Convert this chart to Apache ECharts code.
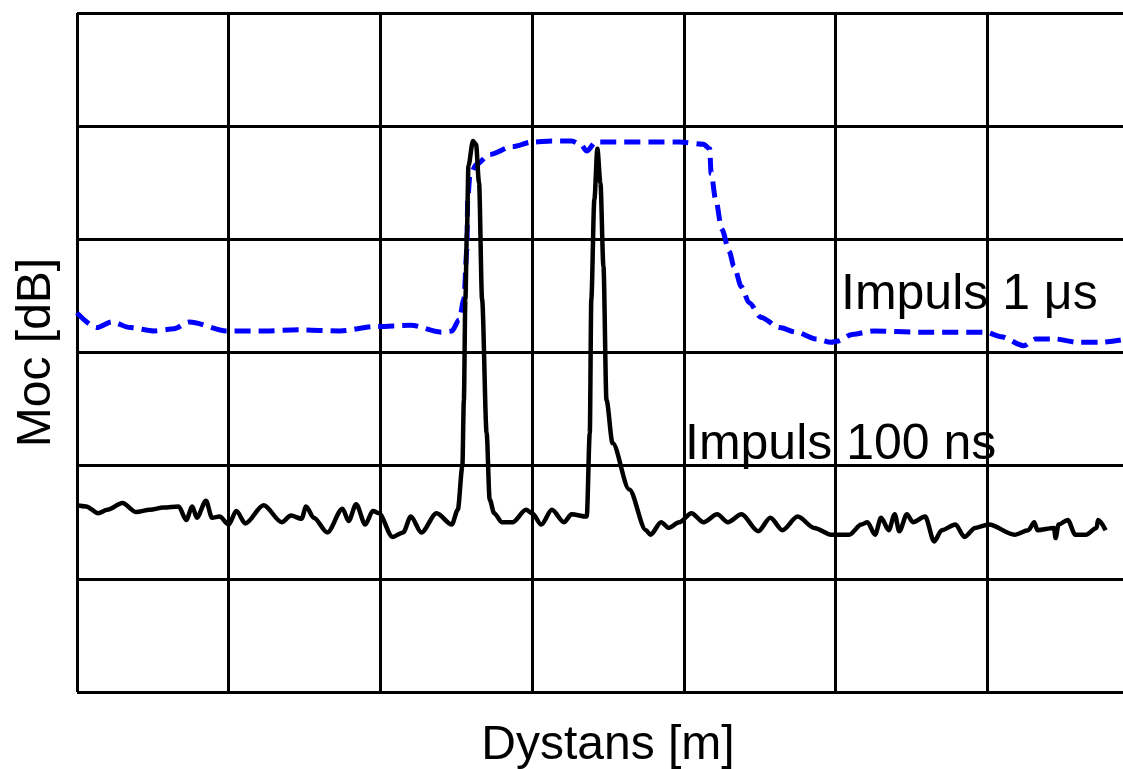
<!DOCTYPE html>
<html>
<head>
<meta charset="utf-8">
<title>Moc vs Dystans</title>
<script src="https://cdn.jsdelivr.net/npm/echarts@6/dist/echarts.min.js"></script>
<style>
  html, body { margin: 0; padding: 0; background: #fff; }
  #chart { width: 1123px; height: 769px; }
</style>
</head>
<body>
<div id="chart"></div>
<script>
// distance (one grid division = 10) and power (one division = 10 dB)
var pulse1usX = [0, 1.3, 2.3, 3.5, 5.1, 6.4, 7.4, 9.9, 12.0, 14.7, 17.3, 19.7, 22.0, 24.0, 24.7, 25.2, 25.5, 25.7, 25.75,
    25.9, 26.3, 27.2, 28.7, 30.0, 31.3, 32.6, 33.2, 33.6, 34.2, 35.3, 39.7, 41.3, 41.7, 41.8, 42.1, 42.5, 43.0, 43.3,
    43.8, 44.3, 45.1, 46.3, 47.4, 48.7, 49.7, 50.1, 51.1, 52.5, 55.5, 59.9, 60.9, 62.4, 63.2, 64.4, 66.0, 67.5, 68.8];
var pulse1usY = [33.5, 32.2, 32.7, 32.2, 31.9, 32.1, 32.7, 31.9, 31.9, 32.0, 31.9, 32.3, 32.4, 31.8, 31.9, 32.9, 34.7, 39.1, 43.5,
    45.6, 46.6, 47.5, 48.2, 48.6, 48.7, 48.7, 48.4, 47.8, 48.6, 48.6, 48.6, 48.4, 48.0, 45.8, 43.5, 40.9, 38.9, 37.6,
    35.8, 34.4, 33.1, 32.2, 31.8, 31.2, 30.9, 31.0, 31.6, 31.9, 31.8, 31.8, 31.4, 30.6, 31.2, 31.2, 30.9, 30.9, 31.1];

var pulse100nsX = [0, 0.6, 1.4, 2.0, 3.0, 3.9, 4.8, 5.7, 6.7, 7.2, 7.6, 7.9, 8.5, 8.9, 9.4, 10.0, 10.5, 11.1, 12.3, 13.5,
    14.1, 14.8, 15.1, 15.6, 16.5, 17.5, 17.9, 18.4, 19.0, 19.5, 19.9, 20.8, 21.5, 22.0, 22.7, 23.7, 24.7, 25.1, 25.4,
    25.5, 25.6, 25.7, 25.8, 26.1, 26.3, 26.5, 26.7, 27.0, 27.2, 27.5, 28.0, 28.7, 29.6, 30.0, 30.6, 31.3, 32.1, 32.6,
    33.6, 33.8, 33.9, 34.1, 34.3, 34.5, 34.7, 34.9, 35.3, 36.4, 37.5, 37.8, 38.5, 39.0, 39.7, 40.5, 41.3, 42.2, 42.9,
    43.8, 44.9, 45.7, 46.5, 47.5, 48.6, 49.7, 50.9, 51.7, 52.1, 52.6, 53.0, 53.5, 53.9, 54.2, 54.7, 55.1, 55.9, 56.5,
    57.0, 57.9, 58.5, 59.2, 60.1, 61.8, 62.7, 63.1, 63.3, 64.4, 64.5, 64.7, 65.3, 65.8, 66.5, 67.2, 67.3, 67.8];
var pulse100nsY = [16.5, 16.4, 15.8, 16.1, 16.7, 15.9, 16.1, 16.3, 16.4, 15.2, 16.4, 15.4, 16.9, 15.4, 15.5, 14.8, 16.0, 14.9, 16.5, 15.0,
    15.6, 15.3, 16.4, 15.4, 14.1, 16.2, 15.1, 16.6, 14.8, 16.0, 15.8, 13.7, 14.1, 15.5, 14.1, 15.8, 14.8, 16.1, 19.9,
    25.8, 34.7, 40.6, 46.5, 48.7, 48.4, 45.0, 34.7, 22.9, 17.0, 15.8, 15.0, 15.0, 16.1, 15.8, 14.8, 16.1, 15.0, 15.7,
    15.5, 22.9, 34.7, 43.5, 48.0, 45.0, 37.6, 25.8, 22.0, 17.9, 14.3, 13.9, 15.0, 14.5, 15.0, 15.8, 15.0, 15.7, 15.0,
    15.7, 14.2, 15.4, 14.3, 15.5, 14.5, 13.9, 13.9, 14.8, 15.0, 13.9, 15.4, 14.3, 15.7, 14.2, 15.7, 15.0, 15.5, 13.3,
    14.3, 14.8, 13.7, 14.5, 14.8, 13.9, 14.3, 15.0, 14.3, 14.5, 13.6, 14.8, 15.2, 13.9, 13.9, 14.5, 15.2, 14.3];

var seriesNames = ['Impuls 1 \u03bcs', 'Impuls 100 ns'];
var axisNames = ['Dystans [m]', 'Moc [dB]'];

function pairs(xs, ys) {
    var out = [];
    for (var i = 0; i < xs.length; i++) {
        out.push([xs[i], ys[i]]);
    }
    return out;
}

var font = 'Liberation Sans, Arial, sans-serif';
var chart = echarts.init(document.getElementById('chart'), null, { renderer: 'canvas' });

var gridLine = { show: true, lineStyle: { color: '#000', width: 3 } };

chart.setOption({
    animation: false,
    backgroundColor: '#fff',
    // the original picture is cut on the right, the last grid column runs past the edge
    grid: { left: 77, top: 13, right: -16, bottom: 77, containLabel: false, outerBoundsMode: 'none' },
    xAxis: {
        type: 'value',
        min: 0, max: 70, interval: 10,
        name: axisNames[0],
        nameLocation: 'middle',
        nameGap: 30,
        nameTextStyle: { fontFamily: font, fontSize: 48, color: '#000' },
        axisLine: { show: false },
        axisTick: { show: false },
        axisLabel: { show: false },
        splitLine: gridLine
    },
    yAxis: {
        type: 'value',
        min: 0, max: 60, interval: 10,
        name: axisNames[1],
        nameLocation: 'middle',
        nameGap: 16,
        nameTextStyle: { fontFamily: font, fontSize: 48, color: '#000' },
        axisLine: { show: false },
        axisTick: { show: false },
        axisLabel: { show: false },
        splitLine: gridLine
    },
    series: [
        {
            name: seriesNames[0],
            type: 'line',
            data: pairs(pulse1usX, pulse1usY),
            showSymbol: false,
            smooth: 0.3,
            smoothMonotone: 'x',
            lineStyle: { color: '#0000ff', width: 5, type: [16, 8] },
            z: 3
        },
        {
            name: seriesNames[1],
            type: 'line',
            data: pairs(pulse100nsX, pulse100nsY),
            showSymbol: false,
            smooth: 0.3,
            smoothMonotone: 'x',
            lineStyle: { color: '#000', width: 4.5 },
            z: 4
        }
    ],
    graphic: [
        {
            type: 'text', x: 841, y: 295, z: 10,
            style: { text: seriesNames[0], font: '50px ' + font, fill: '#000', textVerticalAlign: 'middle' }
        },
        {
            type: 'text', x: 685, y: 445, z: 10,
            style: { text: seriesNames[1], font: '50px ' + font, fill: '#000', textVerticalAlign: 'middle' }
        }
    ]
});
</script>
</body>
</html>
